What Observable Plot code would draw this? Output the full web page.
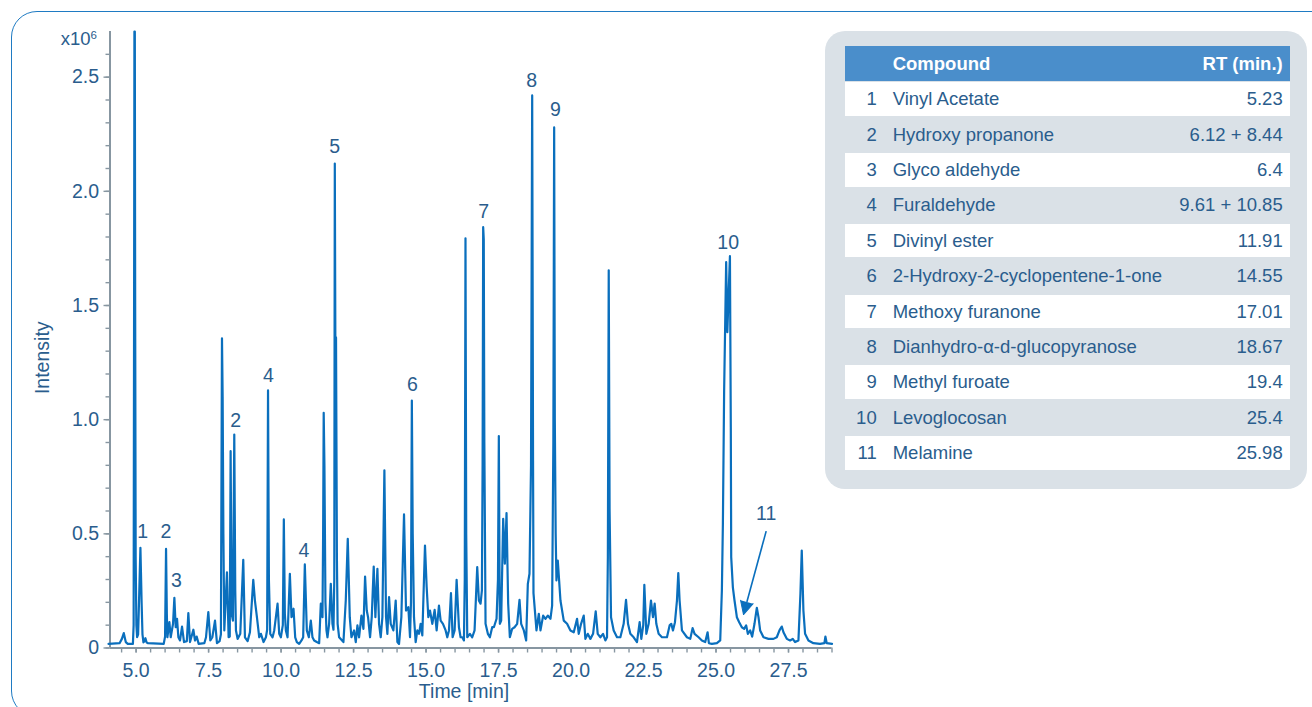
<!DOCTYPE html>
<html>
<head>
<meta charset="utf-8">
<script src="https://cdn.jsdelivr.net/npm/d3@7"></script>
<script src="https://cdn.jsdelivr.net/npm/@observablehq/plot@0.6"></script>
<style>
  html, body { margin: 0; padding: 0; background: #fff; }
  body { width: 1312px; height: 707px; overflow: hidden; font-family: "Liberation Sans", Arial, sans-serif; }
  #wrap { position: relative; width: 1312px; height: 707px; overflow: hidden; }
  #chart { position: absolute; left: 0; top: 0; }
  #frame { position: absolute; left: 10.5px; top: 10.5px; width: 1330px; height: 706px; border: 1.6px solid #1f7bc3; border-radius: 26px; box-sizing: border-box; pointer-events: none; z-index: 5; }
  #mult { position: absolute; left: 0; top: 30px; width: 97px; text-align: right; font-size: 18.5px; line-height: 18.5px; color: #2a5d8d; }
  #mult span { font-size: 11.5px; position: relative; top: -6.5px; }
  #panel { position: absolute; left: 825px; top: 31px; width: 482px; height: 458px; background: #dae1e7; border-radius: 20px; }
  .row { position: absolute; left: 20px; width: 445px; font-size: 18.5px; color: #2a5d8d; }
  .row span { position: absolute; top: 0; white-space: nowrap; }
  .hdr { background: #4a8ecb; color: #fff; font-weight: bold; }
  .white { background: #fff; }
</style>
</head>
<body>
<div id="wrap">
  <div id="chart"></div>
  <div id="mult">x10<span>6</span></div>
  <div id="panel"></div>
  <div id="frame"></div>
</div>
<script>
// ---------------- data ----------------
// chromatogram trace: [retention time (min), intensity (x10^6)]
const traceA = [
  [4.05,0.018],[4.43,0.021],[4.51,0.040],[4.576,0.065],[4.644,0.026],[4.713,0.018],[4.89,0.018],
  [4.915,0.10],[4.932,1.60],[4.942,2.70],[4.956,2.70],[4.968,1.50],[4.985,0.40],[5.01,0.10],[5.035,0.047],
  [5.07,0.06],[5.10,0.20],[5.149,0.439],[5.19,0.20],[5.22,0.06],[5.253,0.025],[5.29,0.030],[5.322,0.043],[5.36,0.025],[5.402,0.021],[5.953,0.018],
  [5.999,0.05],[6.033,0.434],[6.06,0.15],[6.079,0.047],[6.148,0.113],[6.194,0.047],[6.274,0.106],[6.32,0.220],[6.366,0.091],[6.412,0.128],[6.458,0.047],
  [6.515,0.033],[6.584,0.094],[6.653,0.026],[6.75,0.03],[6.802,0.153],[6.86,0.026],[6.975,0.080],[7.032,0.033],[7.089,0.050],[7.158,0.018],
  [7.353,0.021],[7.411,0.047],[7.491,0.157],[7.56,0.033],[7.629,0.047],[7.721,0.120],[7.789,0.021],[7.881,0.030],
  [7.925,0.06],[7.962,1.356],[7.985,1.10],[8.01,0.5],[8.042,0.077],[8.134,0.331],[8.191,0.047],
  [8.23,0.05],[8.26,0.862],[8.295,0.15],[8.34,0.12],[8.386,0.935],[8.42,0.25],[8.444,0.077],[8.501,0.040],[8.593,0.062],[8.696,0.386],[8.754,0.047],
  [8.846,0.030],[8.926,0.069],[9.041,0.299],[9.098,0.208],[9.167,0.135],[9.247,0.047],[9.305,0.062],[9.396,0.026],[9.477,0.047],
  [9.52,0.08],[9.55,1.128],[9.58,0.3],[9.626,0.062],[9.706,0.047],[9.764,0.077],[9.879,0.194],[9.936,0.062],[9.993,0.047],[10.06,0.10],[10.095,0.563],[10.13,0.15]
];
const traceB = [
  [10.165,0.077],[10.223,0.047],[10.303,0.325],[10.36,0.135],[10.429,0.172],[10.487,0.047],[10.544,0.026],[10.624,0.018],[10.705,0.033],[10.762,0.047],
  [10.819,0.366],[10.888,0.077],[10.957,0.047],[11.026,0.120],[11.083,0.047],[11.141,0.033],[11.233,0.026],[11.313,0.021],[11.37,0.194],[11.428,0.135],
  [11.45,0.5],[11.47,1.03],[11.495,0.8],[11.53,0.2],[11.566,0.077],[11.60,0.047],[11.657,0.106],[11.715,0.281],[11.772,0.106],[11.807,0.080],
  [11.835,0.3],[11.853,2.122],[11.875,1.2],[11.895,1.36],[11.925,0.4],[11.95,0.106],[12.002,0.047],[12.151,0.026],[12.231,0.208],[12.30,0.478],[12.369,0.135],
  [12.426,0.047],[12.518,0.077],[12.576,0.026],[12.633,0.099],[12.69,0.047],[12.771,0.142],[12.84,0.084],[12.897,0.313],[12.955,0.164],[13.00,0.135],
  [13.069,0.047],[13.127,0.135],[13.195,0.357],[13.253,0.135],[13.322,0.347],[13.379,0.106],[13.437,0.047],[13.494,0.135],
  [13.563,0.778],[13.62,0.135],[13.666,0.062],[13.724,0.223],[13.781,0.106],[13.873,0.077],[13.953,0.208],[14.011,0.026],[14.068,0.018],[14.148,0.135],
  [14.24,0.585],[14.309,0.164],[14.389,0.179],[14.447,0.047],
  [14.48,0.2],[14.51,1.084],[14.54,0.5],[14.584,0.135],[14.642,0.026],[14.699,0.077],[14.757,0.062],[14.814,0.106],[14.871,0.055],[14.963,0.449],
  [15.021,0.267],[15.078,0.135],[15.135,0.164],[15.216,0.106],[15.296,0.167],[15.365,0.077],[15.445,0.186],[15.503,0.120],[15.583,0.106],[15.675,0.077],
  [15.732,0.047],[15.79,0.077],[15.859,0.240],[15.916,0.047],[15.985,0.077],[16.054,0.299],[16.134,0.091],[16.191,0.047]
];
const traceC = [
  [16.248,0.047],[16.306,0.033],[16.335,0.3],[16.36,1.794],[16.385,0.5],[16.421,0.047],[16.512,0.062],[16.593,0.047],[16.673,0.077],[16.765,0.354],
  [16.822,0.208],[16.88,0.194],[16.926,0.252],[16.95,0.8],[16.97,1.843],[16.99,1.79],[17.01,0.9],[17.052,0.106],[17.132,0.062],[17.201,0.047],
  [17.281,0.091],[17.339,0.091],[17.431,0.128],[17.48,0.3],[17.51,0.928],[17.53,0.4],[17.545,0.106],[17.591,0.120],[17.66,0.566],[17.718,0.369],
  [17.775,0.591],[17.832,0.194],[17.89,0.047],[17.97,0.084],[18.051,0.091],[18.142,0.106],[18.223,0.211],[18.28,0.106],[18.372,0.077],[18.452,0.033],
  [18.51,0.281],[18.567,0.325],[18.62,0.8],[18.66,2.42],[18.69,0.82],[18.705,0.24],[18.808,0.077],[18.889,0.150],[18.946,0.077],[19.038,0.142],
  [19.118,0.128],[19.198,0.142],[19.29,0.128],[19.348,0.186],[19.39,0.9],[19.418,2.28],[19.44,1.01],[19.47,0.5],[19.497,0.296],[19.543,0.383],
  [19.589,0.296],[19.635,0.208],[19.749,0.120],[19.864,0.106],[19.979,0.077],[20.094,0.069],[20.208,0.128],[20.266,0.062],[20.346,0.106],[20.438,0.142],
  [20.495,0.040],[20.576,0.062],[20.668,0.040],[20.76,0.062],[20.851,0.160],[20.92,0.062],[21.012,0.047],[21.104,0.062],[21.184,0.033],[21.241,0.047],
  [21.27,0.4],[21.30,1.654],[21.33,0.6],[21.379,0.135],[21.471,0.077],[21.586,0.047],[21.701,0.047],[21.815,0.106],[21.896,0.211],[21.965,0.106],
  [22.045,0.062],[22.16,0.047],[22.274,0.026],[22.366,0.113],[22.424,0.040]
];
const traceD = [
  [22.49,0.1],[22.528,0.277],[22.597,0.062],[22.677,0.106],[22.757,0.208],[22.826,0.135],[22.884,0.194],[22.941,0.106],[23.021,0.062],[23.136,0.047],
  [23.308,0.047],[23.40,0.099],[23.457,0.106],[23.515,0.077],[23.584,0.113],[23.653,0.208],[23.699,0.328],[23.744,0.208],[23.825,0.077],[23.997,0.047],
  [24.112,0.040],[24.192,0.087],[24.261,0.062],[24.399,0.047],[24.513,0.033],[24.628,0.026],[24.709,0.069],[24.754,0.021],[24.858,0.018],[25.03,0.021],
  [25.145,0.033],[25.202,0.252],[25.237,0.544],[25.28,1.128],[25.35,1.690],[25.39,1.383],[25.48,1.716],[25.51,0.967],[25.524,0.398],[25.581,0.266],
  [25.638,0.208],[25.719,0.135],[25.799,0.113],[25.891,0.091],[25.971,0.084],[26.04,0.099],[26.098,0.062],[26.178,0.077],[26.247,0.050],[26.327,0.106],
  [26.407,0.176],[26.465,0.135],[26.522,0.077],[26.637,0.047],[26.809,0.040],[26.981,0.040],[27.096,0.047],[27.188,0.077],[27.268,0.094],[27.326,0.069],
  [27.441,0.040],[27.555,0.033],[27.647,0.040],[27.727,0.026],[27.842,0.033],[27.911,0.237],[27.957,0.427],[28.014,0.164],[28.072,0.062],[28.187,0.033],
  [28.359,0.021],[28.588,0.018],[28.738,0.021],[28.772,0.050],[28.818,0.021],[29.0,0.018]
];

// peak annotations
const peakLabel     = ["1", "2", "3", "2", "4", "4", "5", "6", "7", "8", "9", "10", "11"];
const peakLabelTime = [5.23, 6.03, 6.39, 8.43, 9.56, 10.79, 11.85, 14.53, 16.99, 18.64, 19.46, 25.42, 26.73];
const peakLabelInt  = [0.507, 0.507, 0.296, 0.995, 1.191, 0.428, 2.197, 1.152, 1.912, 2.486, 2.359, 1.776, 0.586];
// arrow for peak 11: [time, intensity] start and arrow-head base
const arrow11 = { x1: 26.73, y1: 0.512, x2: 26.064, y2: 0.2015 };

// axes
const xDomain = [4.1, 29.0];
const yDomain = [0, 2.7];
const xMajorTicks = [5, 7.5, 10, 12.5, 15, 17.5, 20, 22.5, 25, 27.5];
const xMinorTicks = d3.range(4.5, 29.01, 0.5);
const yMajorTicks = [0, 0.5, 1.0, 1.5, 2.0, 2.5];
const yMinorTicks = d3.range(0, 2.61, 0.1);

// compound table
const compoundNo   = [1, 2, 3, 4, 5, 6, 7, 8, 9, 10, 11];
const compoundName = ["Vinyl Acetate", "Hydroxy propanone", "Glyco aldehyde", "Furaldehyde", "Divinyl ester",
  "2-Hydroxy-2-cyclopentene-1-one", "Methoxy furanone", "Dianhydro-\u03b1-d-glucopyranose", "Methyl furoate", "Levoglocosan", "Melamine"];
const retentionTime = ["5.23", "6.12 + 8.44", "6.4", "9.61 + 10.85", "11.91", "14.55", "17.01", "18.67", "19.4", "25.4", "25.98"];

// ---------------- chart ----------------
const lineBlue = "#0a6fbd";
const textBlue = "#2a5d8d";
const axisGray = "#8796a1";
const trace = [...traceA, ...traceB, ...traceC, ...traceD];
const labels = peakLabel.map((t, i) => ({t, x: peakLabelTime[i], y: peakLabelInt[i]}));

const chart = Plot.plot({
  width: 840,
  height: 707,
  marginLeft: 109.5,
  marginRight: 8.5,
  marginTop: 31,
  marginBottom: 59.5,
  x: {domain: xDomain},
  y: {domain: yDomain},
  style: {fontFamily: '"Liberation Sans", Arial, sans-serif', fontSize: "19.5px", background: "transparent", color: textBlue},
  marks: [
    Plot.axisX({ticks: xMinorTicks, tickSize: 5, tickFormat: () => "", stroke: axisGray, strokeWidth: 1.4, label: null}),
    Plot.axisX({ticks: xMajorTicks, tickSize: 5, tickPadding: 10, tickFormat: d3.format(".1f"), stroke: axisGray, strokeWidth: 1.4, fill: textBlue, label: null}),
    Plot.axisY({ticks: yMinorTicks, tickSize: 4, tickFormat: () => "", stroke: axisGray, strokeWidth: 1.4, label: null}),
    Plot.axisY({ticks: yMajorTicks, tickSize: 6, tickPadding: 5, tickFormat: d => d === 0 ? "0" : d.toFixed(1), stroke: axisGray, strokeWidth: 1.4, fill: textBlue, label: null}),
    Plot.ruleY([yDomain[0]], {stroke: axisGray, strokeWidth: 2}),
    Plot.ruleX([xDomain[0]], {stroke: axisGray, strokeWidth: 2}),
    Plot.line(trace, {x: d => d[0], y: d => d[1], stroke: lineBlue, strokeWidth: 2.2, strokeLinejoin: "round"}),
    Plot.text(labels, {x: "x", y: "y", text: "t", fill: textBlue, fontSize: 19.5}),
    Plot.link([arrow11], {x1: "x1", y1: "y1", x2: "x2", y2: "y2", stroke: lineBlue, strokeWidth: 1.6}),
    Plot.vector([arrow11], {x: "x2", y: "y2", length: 13, rotate: 195, shape: "spike", r: 6.5, anchor: "start", fill: lineBlue, stroke: lineBlue, strokeWidth: 1}),
    Plot.text(["Intensity"], {text: d => d, frameAnchor: "left", textAnchor: "middle", lineAnchor: "middle", rotate: -90, dx: -67, dy: 18, fill: textBlue, fontSize: 19.5}),
    Plot.text(["Time [min]"], {text: d => d, frameAnchor: "bottom", textAnchor: "middle", lineAnchor: "middle", dx: -7, dy: 43.5, fill: textBlue, fontSize: 19.5})
  ]
});
document.getElementById("chart").appendChild(chart);

// ---------------- table ----------------
const panel = document.getElementById("panel");
const tableTop = 14.7, rowH = 35.4;
function addRow(top, h, cls, no, name, rt) {
  const r = document.createElement("div");
  r.className = "row " + cls;
  r.style.top = top + "px";
  r.style.height = h + "px";
  r.style.lineHeight = h + "px";
  const a = document.createElement("span"); a.style.left = "0px"; a.style.width = "31.7px"; a.style.textAlign = "right"; a.textContent = no;
  const b = document.createElement("span"); b.style.left = "47.7px"; b.textContent = name;
  const c = document.createElement("span"); c.style.right = "7.3px"; c.style.textAlign = "right"; c.textContent = rt;
  r.append(a, b, c);
  panel.appendChild(r);
}
addRow(tableTop, rowH, "hdr", "", "Compound", "RT (min.)");
compoundNo.forEach((n, i) => {
  const top = tableTop + rowH * (i + 1);
  if (i % 2 === 0) addRow(top + 1, rowH - 1.6, "white", String(n), compoundName[i], retentionTime[i]);
  else addRow(top, rowH, "", String(n), compoundName[i], retentionTime[i]);
});
</script>
</body>
</html>
